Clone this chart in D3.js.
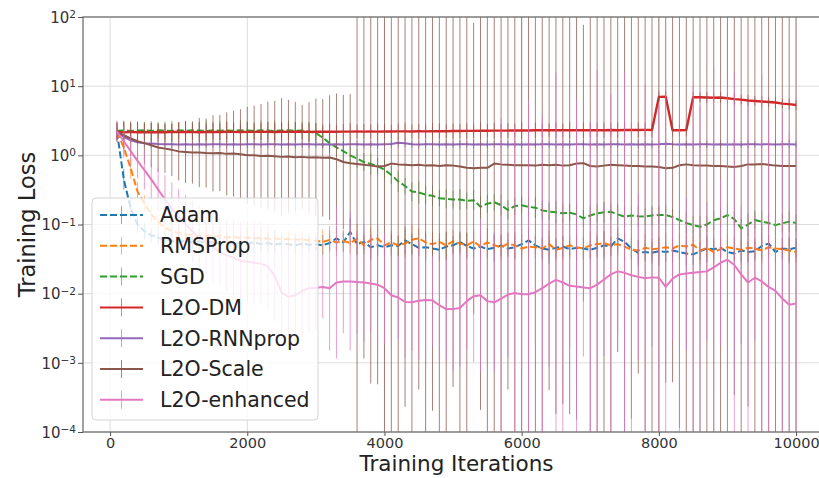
<!DOCTYPE html>
<html>
<head>
<meta charset="utf-8">
<script src="https://cdn.jsdelivr.net/npm/d3@7"></script>
<style>
  body { margin: 0; background: #fff; }
  svg { display: block; font-family: "DejaVu Sans", sans-serif; }
</style>
</head>
<body>
<svg id="chart" width="819" height="478"></svg>
<script>
// Training iterations at which every optimizer was evaluated
const iterations = d3.range(100, 10001, 100);

// Mean training loss per optimizer (one value per evaluation step)
const adamLoss = [2.2,0.45,0.17,0.1,0.08,0.07,0.065,0.06,0.058,0.056,
  0.058,0.055,0.057,0.054,0.056,0.053,0.055,0.052,0.054,0.053,
  0.055,0.052,0.054,0.051,0.053,0.052,0.05,0.053,0.051,0.052,
  0.05,0.054,0.063,0.055,0.078,0.052,0.056,0.047,0.05,0.047,
  0.05,0.049,0.059,0.052,0.046,0.047,0.045,0.043,0.048,0.05,
  0.056,0.049,0.045,0.048,0.044,0.046,0.05,0.045,0.047,0.052,
  0.059,0.05,0.045,0.043,0.046,0.048,0.044,0.046,0.045,0.043,
  0.046,0.05,0.048,0.063,0.056,0.045,0.039,0.04,0.039,0.041,
  0.04,0.042,0.04,0.038,0.037,0.041,0.045,0.044,0.046,0.04,
  0.038,0.042,0.04,0.041,0.049,0.053,0.04,0.045,0.044,0.046];

const rmspropLoss = [2.2,1.3,0.65,0.3,0.2,0.14,0.11,0.09,0.08,0.075,
  0.072,0.07,0.068,0.07,0.066,0.068,0.065,0.066,0.064,0.065,
  0.063,0.064,0.062,0.063,0.061,0.062,0.06,0.061,0.059,0.058,
  0.056,0.06,0.055,0.058,0.054,0.062,0.05,0.06,0.063,0.05,
  0.055,0.05,0.053,0.06,0.063,0.055,0.052,0.056,0.05,0.057,
  0.053,0.05,0.057,0.048,0.055,0.05,0.047,0.053,0.05,0.045,
  0.048,0.047,0.045,0.052,0.043,0.046,0.05,0.047,0.045,0.05,
  0.052,0.054,0.05,0.052,0.048,0.043,0.042,0.046,0.044,0.045,
  0.047,0.045,0.05,0.048,0.051,0.042,0.046,0.04,0.044,0.047,
  0.045,0.043,0.046,0.045,0.042,0.047,0.045,0.044,0.042,0.04];

const sgdLoss = [2.25,2.3,2.25,2.28,2.3,2.26,2.3,2.28,2.25,2.3,
  2.27,2.3,2.28,2.25,2.3,2.27,2.29,2.26,2.3,2.28,
  2.26,2.3,2.28,2.25,2.29,2.3,2.26,2.28,2.2,2.1,
  1.8,1.5,1.3,1.15,1.0,0.9,0.8,0.75,0.7,0.62,
  0.52,0.42,0.36,0.3,0.29,0.27,0.26,0.24,0.235,0.23,
  0.23,0.22,0.225,0.18,0.2,0.21,0.19,0.162,0.185,0.19,
  0.18,0.175,0.16,0.153,0.15,0.145,0.148,0.14,0.123,0.135,
  0.145,0.15,0.153,0.14,0.13,0.135,0.132,0.13,0.135,0.137,
  0.137,0.128,0.116,0.105,0.098,0.093,0.1,0.115,0.123,0.137,
  0.12,0.088,0.1,0.116,0.11,0.105,0.098,0.104,0.11,0.105];

const dmLoss = [2.2,2.15,2.18,2.16,2.17,2.15,2.17,2.16,2.18,2.17,
  2.17,2.18,2.16,2.17,2.18,2.17,2.19,2.18,2.17,2.18,
  2.18,2.19,2.18,2.17,2.19,2.18,2.19,2.2,2.18,2.19,
  2.19,2.2,2.19,2.2,2.2,2.21,2.2,2.21,2.2,2.22,
  2.21,2.22,2.22,2.21,2.23,2.22,2.23,2.24,2.23,2.25,
  2.25,2.26,2.26,2.27,2.27,2.28,2.28,2.28,2.29,2.29,
  2.29,2.3,2.3,2.3,2.3,2.31,2.31,2.3,2.31,2.31,
  2.31,2.31,2.32,2.31,2.32,2.32,2.32,2.33,2.33,7.0,
  7.05,2.3,2.3,2.32,6.9,6.9,6.85,6.8,6.85,6.7,
  6.5,6.4,6.2,6.1,6.0,5.9,5.8,5.6,5.5,5.35];

const rnnpropLoss = [2.2,1.85,1.65,1.55,1.5,1.48,1.46,1.45,1.45,1.44,
  1.45,1.44,1.45,1.44,1.45,1.45,1.44,1.45,1.44,1.45,
  1.45,1.44,1.45,1.45,1.44,1.45,1.44,1.45,1.45,1.44,
  1.45,1.44,1.45,1.44,1.45,1.45,1.44,1.45,1.44,1.45,
  1.46,1.52,1.5,1.45,1.44,1.45,1.45,1.44,1.45,1.44,
  1.45,1.45,1.44,1.45,1.44,1.45,1.45,1.44,1.45,1.44,
  1.45,1.44,1.45,1.45,1.44,1.45,1.44,1.45,1.45,1.44,
  1.45,1.44,1.45,1.45,1.44,1.45,1.44,1.45,1.44,1.45,
  1.47,1.45,1.44,1.45,1.44,1.45,1.45,1.44,1.45,1.44,
  1.45,1.44,1.45,1.45,1.44,1.45,1.44,1.45,1.45,1.44];

const scaleLoss = [2.2,1.95,1.75,1.6,1.5,1.4,1.3,1.25,1.2,1.14,
  1.12,1.1,1.1,1.08,1.07,1.08,1.05,1.06,1.04,1.0,
  1.0,0.98,0.99,0.97,0.95,0.96,0.94,0.95,0.93,0.94,
  0.92,0.93,0.88,0.8,0.77,0.75,0.73,0.71,0.69,0.7,
  0.76,0.74,0.73,0.72,0.73,0.71,0.72,0.7,0.72,0.71,
  0.69,0.66,0.65,0.66,0.66,0.76,0.74,0.73,0.72,0.72,
  0.72,0.71,0.73,0.72,0.73,0.71,0.72,0.76,0.77,0.7,
  0.69,0.71,0.73,0.72,0.71,0.7,0.7,0.69,0.69,0.68,
  0.65,0.66,0.72,0.74,0.72,0.71,0.71,0.7,0.7,0.69,
  0.68,0.7,0.74,0.74,0.75,0.73,0.71,0.7,0.7,0.7];

const enhancedLoss = [2.2,1.6,1.15,0.83,0.61,0.45,0.32,0.23,0.17,0.13,
  0.1,0.08,0.065,0.055,0.047,0.04,0.036,0.033,0.03,0.029,
  0.028,0.027,0.025,0.018,0.0105,0.009,0.0095,0.011,0.012,0.0122,
  0.0125,0.012,0.0145,0.015,0.015,0.0148,0.0145,0.014,0.0135,0.012,
  0.0095,0.0088,0.0076,0.0075,0.0079,0.0081,0.008,0.0068,0.006,0.006,
  0.0062,0.0078,0.0092,0.0095,0.0078,0.0075,0.0085,0.0097,0.0102,0.0098,
  0.0098,0.0105,0.012,0.014,0.0158,0.0145,0.013,0.0127,0.0123,0.012,
  0.0135,0.016,0.019,0.021,0.02,0.0185,0.0175,0.0167,0.0172,0.017,
  0.0125,0.0165,0.019,0.0195,0.02,0.0205,0.021,0.024,0.028,0.031,
  0.026,0.019,0.0145,0.017,0.015,0.0125,0.011,0.0085,0.0069,0.0072];

// Spread of the loss across runs, in decades (error bar = mean ×/÷ 10^spread)
const adamSpread = [0.12,0.15,0.15,0.12,0.12,0.1,0.12,0.1,0.12,0.1,
  0.12,0.1,0.12,0.1,0.12,0.1,0.12,0.1,0.12,0.1,
  0.12,0.1,0.12,0.1,0.12,0.1,0.12,0.1,0.12,0.1,
  0.15,0.12,0.18,0.14,0.2,0.15,0.12,0.18,0.15,0.12,
  0.16,0.14,0.2,0.15,0.12,0.18,0.14,0.16,0.2,0.13,
  0.15,0.18,0.12,0.16,0.14,0.2,0.15,0.12,0.17,0.14,
  0.18,0.13,0.16,0.2,0.14,0.15,0.12,0.18,0.16,0.13,
  0.15,0.2,0.14,0.17,0.12,0.16,0.18,0.13,0.15,0.2,
  0.14,0.16,0.12,0.18,0.15,0.13,0.2,0.16,0.14,0.17,
  0.12,0.18,0.15,0.14,0.2,0.13,0.16,0.15,0.18,0.14];

const rmspropSpread = [0.12,0.15,0.15,0.14,0.12,0.12,0.1,0.12,0.1,0.12,
  0.1,0.12,0.1,0.12,0.1,0.12,0.1,0.12,0.1,0.12,
  0.1,0.12,0.1,0.12,0.1,0.12,0.1,0.12,0.1,0.12,
  0.18,0.14,0.2,0.15,0.16,0.22,0.13,0.18,0.2,0.14,
  0.17,0.15,0.2,0.22,0.14,0.16,0.18,0.13,0.2,0.17,
  0.15,0.19,0.14,0.16,0.21,0.13,0.18,0.15,0.2,0.14,
  0.17,0.16,0.13,0.2,0.15,0.18,0.14,0.19,0.16,0.2,
  0.15,0.18,0.13,0.17,0.2,0.14,0.16,0.19,0.15,0.17,
  0.2,0.13,0.18,0.16,0.14,0.2,0.15,0.17,0.13,0.19,
  0.16,0.14,0.2,0.15,0.18,0.13,0.17,0.16,0.19,0.15];

const sgdSpread = [0.12,0.14,0.12,0.13,0.12,0.14,0.12,0.13,0.15,0.12,
  0.14,0.12,0.13,0.15,0.12,0.14,0.13,0.12,0.15,0.13,
  0.12,0.14,0.13,0.15,0.12,0.14,0.13,0.12,0.14,0.15,
  0.15,0.14,0.13,0.15,0.12,0.14,0.13,0.15,0.12,0.14,
  0.13,0.15,0.12,0.14,0.16,0.13,0.15,0.12,0.14,0.13,
  0.15,0.12,0.14,0.16,0.13,0.12,0.15,0.14,0.13,0.12,
  0.14,0.15,0.13,0.12,0.16,0.14,0.13,0.15,0.12,0.14,
  0.13,0.15,0.12,0.14,0.16,0.13,0.15,0.12,0.14,0.13,
  0.15,0.12,0.14,0.16,0.13,0.15,0.12,0.14,0.13,0.15,
  0.12,0.14,0.16,0.13,0.15,0.12,0.14,0.13,0.15,0.12];

const dmSpread = [0.12,0.14,0.12,0.13,0.12,0.14,0.12,0.13,0.12,0.14,
  0.13,0.12,0.14,0.12,0.13,0.12,0.14,0.13,0.12,0.14,
  0.12,0.13,0.14,0.12,0.13,0.12,0.14,0.12,0.13,0.12,
  0.11,0.12,0.1,0.11,0.12,0.1,0.11,0.1,0.12,0.11,
  0.1,0.11,0.12,0.1,0.11,0.1,0.12,0.11,0.1,0.11,
  0.1,0.11,0.1,0.12,0.1,0.11,0.1,0.11,0.1,0.12,
  0.1,0.11,0.1,0.1,0.11,0.1,0.12,0.1,0.11,0.1,
  0.1,0.11,0.1,0.11,0.1,0.1,0.11,0.1,0.11,0.08,
  0.08,0.09,0.08,0.09,0.08,0.07,0.08,0.07,0.08,0.07,
  0.08,0.07,0.08,0.07,0.08,0.07,0.08,0.07,0.08,0.07];

const rnnpropSpread = [0.08,0.07,0.06,0.07,0.06,0.07,0.06,0.05,0.06,0.05,
  0.06,0.05,0.06,0.05,0.06,0.05,0.06,0.05,0.06,0.05,
  0.06,0.05,0.06,0.05,0.06,0.05,0.06,0.05,0.06,0.05,
  0.06,0.05,0.06,0.05,0.06,0.05,0.06,0.05,0.06,0.05,
  0.06,0.07,0.06,0.05,0.06,0.05,0.06,0.05,0.06,0.05,
  0.06,0.05,0.06,0.05,0.06,0.05,0.06,0.05,0.06,0.05,
  0.06,0.05,0.06,0.05,0.06,0.05,0.06,0.05,0.06,0.05,
  0.06,0.05,0.06,0.05,0.06,0.05,0.06,0.05,0.06,0.05,
  0.06,0.05,0.06,0.05,0.06,0.05,0.06,0.05,0.06,0.05,
  0.06,0.05,0.06,0.05,0.06,0.05,0.06,0.05,0.06,0.05];

const scaleSpread = [0.15,0.2,0.25,0.28,0.3,0.32,0.35,0.35,0.38,0.42,
  0.45,0.45,0.5,0.5,0.55,0.55,0.6,0.62,0.65,0.7,
  0.72,0.75,0.78,0.8,0.85,0.82,0.8,0.75,0.8,0.85,
  0.85,0.9,0.95,0.97,1.0,
  4.3,2.8,3.15,3.15,4.5,3.9,4.4,3.5,4.2,3.25,4.6,3.55,4.1,4.3,3.2,4.4,4.2,2.1,3.5,4.5,
  4.0,4.3,3.25,4.1,4.4,4.2,4.6,4.0,3.25,3.6,3.45,3.6,3.7,2.0,4.3,4.1,4.5,4.2,2.7,4.4,
  3.65,3.0,4.3,4.0,4.4,3.1,3.1,3.8,4.3,4.1,4.5,4.2,4.0,4.4,4.6,3.3,4.3,3.5,4.1,4.4,
  4.2,4.5,4.0,4.3,4.4];

const enhancedSpread = [0.15,0.2,0.22,0.25,0.28,0.3,0.32,0.35,0.38,0.4,
  0.42,0.45,0.45,0.48,0.5,0.5,0.52,0.55,0.55,0.58,
  0.6,0.6,0.62,0.65,0.7,0.72,0.7,0.68,0.65,0.6,
  0.45,0.9,1.1,0.75,1.0,0.75,0.85,0.7,0.9,0.8,
  0.75,0.6,0.8,0.7,0.85,0.9,0.65,0.8,0.75,0.9,
  0.85,0.7,0.95,1.1,0.9,
  1.0,2.6,0.9,2.4,1.1,2.8,0.8,2.5,1.2,3.0,
  2.2,0.9,2.7,1.0,2.4,3.1,1.1,2.6,0.9,2.9,
  2.3,1.2,2.8,1.0,2.5,3.0,0.9,2.6,1.1,2.7,
  2.4,1.0,2.9,1.2,2.5,2.8,1.0,2.6,0.9,3.0,
  2.4,1.1,2.7,2.5,2.3];

// Axis ticks
const xTicks = [0, 2000, 4000, 6000, 8000, 10000];
const yTickExponents = [-4, -3, -2, -1, 0, 1, 2];

// Series list in plotting order; styling lives here, values live above
const seriesNames = ["Adam", "RMSProp", "SGD", "L2O-DM", "L2O-RNNprop", "L2O-Scale", "L2O-enhanced"];
const seriesLoss = [adamLoss, rmspropLoss, sgdLoss, dmLoss, rnnpropLoss, scaleLoss, enhancedLoss];
const seriesSpread = [adamSpread, rmspropSpread, sgdSpread, dmSpread, rnnpropSpread, scaleSpread, enhancedSpread];
const seriesColor = ["#1f77b4", "#ff7f0e", "#2ca02c", "#d62728", "#9467bd", "#8c564b", "#e377c2"];
const seriesDashed = [true, true, true, false, false, false, false];
const barOpacity = [0.6, 0.6, 0.6, 0.6, 0.6, 0.75, 0.7];

const svg = d3.select("#chart");
const W = 819, H = 478;
const plot = { left: 83, right: 830, top: 17, bottom: 432 };

svg.append("rect").attr("width", W).attr("height", H).attr("fill", "#fff");

const x = d3.scaleLinear().domain([-395, 10495]).range([plot.left, plot.right]);
const y = d3.scaleLog().domain([1e-4, 1e2]).range([plot.bottom, plot.top]);

svg.append("defs").append("clipPath").attr("id", "plotClip")
  .append("rect")
  .attr("x", plot.left).attr("y", plot.top)
  .attr("width", plot.right - plot.left).attr("height", plot.bottom - plot.top);

// Grid
const grid = svg.append("g").attr("stroke", "#dcdcdc").attr("stroke-width", 1);
grid.selectAll("line.gx").data(xTicks).join("line")
  .attr("x1", d => x(d)).attr("x2", d => x(d))
  .attr("y1", plot.top).attr("y2", plot.bottom);
grid.selectAll("line.gy").data(yTickExponents).join("line")
  .attr("x1", plot.left).attr("x2", plot.right)
  .attr("y1", d => y(Math.pow(10, d))).attr("y2", d => y(Math.pow(10, d)));

// Data: each series draws its line first, then its error bars
const plotArea = svg.append("g").attr("clip-path", "url(#plotClip)");
const clampLog = v => Math.min(1e3, Math.max(1e-6, v));
const line = d3.line().x(d => x(d.it)).y(d => y(d.v));

seriesNames.forEach((name, s) => {
  const pts = iterations.map((it, i) => ({
    it, v: seriesLoss[s][i], sp: seriesSpread[s][i]
  }));
  const g = plotArea.append("g");
  g.append("path")
    .datum(pts)
    .attr("d", line)
    .attr("fill", "none")
    .attr("stroke", seriesColor[s])
    .attr("stroke-width", s === 3 ? 2.4 : 2)
    .attr("stroke-linejoin", "round")
    .attr("stroke-dasharray", seriesDashed[s] ? "7,3" : null);
  g.selectAll("line.bar").data(pts).join("line")
    .attr("class", "bar")
    .attr("x1", d => x(d.it)).attr("x2", d => x(d.it))
    .attr("y1", d => y(clampLog(d.v * Math.pow(10, d.sp))))
    .attr("y2", d => y(clampLog(d.v / Math.pow(10, d.sp))))
    .attr("stroke", seriesColor[s])
    .attr("stroke-opacity", barOpacity[s])
    .attr("stroke-width", 1);
});

// Frame
svg.append("rect")
  .attr("x", plot.left).attr("y", plot.top)
  .attr("width", plot.right - plot.left).attr("height", plot.bottom - plot.top)
  .attr("fill", "none").attr("stroke", "#7a7a7a").attr("stroke-width", 1.4);

// Axes
const xAxis = svg.append("g")
  .attr("transform", `translate(0,${plot.bottom})`)
  .call(d3.axisBottom(x).tickValues(xTicks).tickSize(4).tickPadding(2).tickFormat(d3.format("d")));
xAxis.select(".domain").remove();
xAxis.selectAll("line").attr("stroke", "#555");
xAxis.selectAll("text").attr("font-size", 14.5).attr("fill", "#333")
  .attr("font-family", "DejaVu Sans, sans-serif");

const yAxis = svg.append("g")
  .attr("transform", `translate(${plot.left},0)`)
  .call(d3.axisLeft(y).tickValues(yTickExponents.map(e => Math.pow(10, e))).tickSize(5).tickPadding(4).tickFormat(""));
yAxis.select(".domain").remove();
yAxis.selectAll("line").attr("stroke", "#555");
yAxis.selectAll(".tick").each(function(d, i) {
  const e = yTickExponents[i];
  const t = d3.select(this).append("text")
    .attr("x", -7).attr("dy", "0.35em")
    .attr("text-anchor", "end").attr("fill", "#333")
    .attr("font-size", 15).attr("font-family", "DejaVu Sans, sans-serif");
  t.append("tspan").text("10");
  t.append("tspan").attr("dy", "-0.45em").attr("font-size", 10.5)
    .text(e < 0 ? "\u2212" + Math.abs(e) : String(e));
});

// Axis titles
svg.append("text")
  .attr("x", (plot.left + 830) / 2).attr("y", 471)
  .attr("text-anchor", "middle").attr("font-size", 21.5).attr("fill", "#222")
  .text("Training Iterations");
svg.append("text")
  .attr("transform", `translate(35,${(plot.top + plot.bottom) / 2}) rotate(-90)`)
  .attr("text-anchor", "middle").attr("font-size", 22.5).attr("fill", "#222")
  .text("Training Loss");

// Legend
const legend = svg.append("g").attr("transform", "translate(92,198)");
legend.append("rect")
  .attr("width", 226).attr("height", 222).attr("rx", 4)
  .attr("fill", "#fff").attr("fill-opacity", 0.8)
  .attr("stroke", "#d5d5d5").attr("stroke-width", 1);
seriesNames.forEach((name, s) => {
  const row = legend.append("g").attr("transform", `translate(0,${17 + s * 30.8})`);
  row.append("line")
    .attr("x1", 8).attr("x2", 51).attr("y1", 0).attr("y2", 0)
    .attr("stroke", seriesColor[s]).attr("stroke-width", 2)
    .attr("stroke-dasharray", seriesDashed[s] ? "7,3" : null);
  row.append("line")
    .attr("x1", 29.5).attr("x2", 29.5).attr("y1", -9).attr("y2", 9)
    .attr("stroke", seriesColor[s]).attr("stroke-opacity", barOpacity[s]).attr("stroke-width", 1);
  row.append("text")
    .attr("x", 68).attr("dy", "0.36em")
    .attr("font-size", 20.5).attr("fill", "#222")
    .text(name);
});
</script>
</body>
</html>
